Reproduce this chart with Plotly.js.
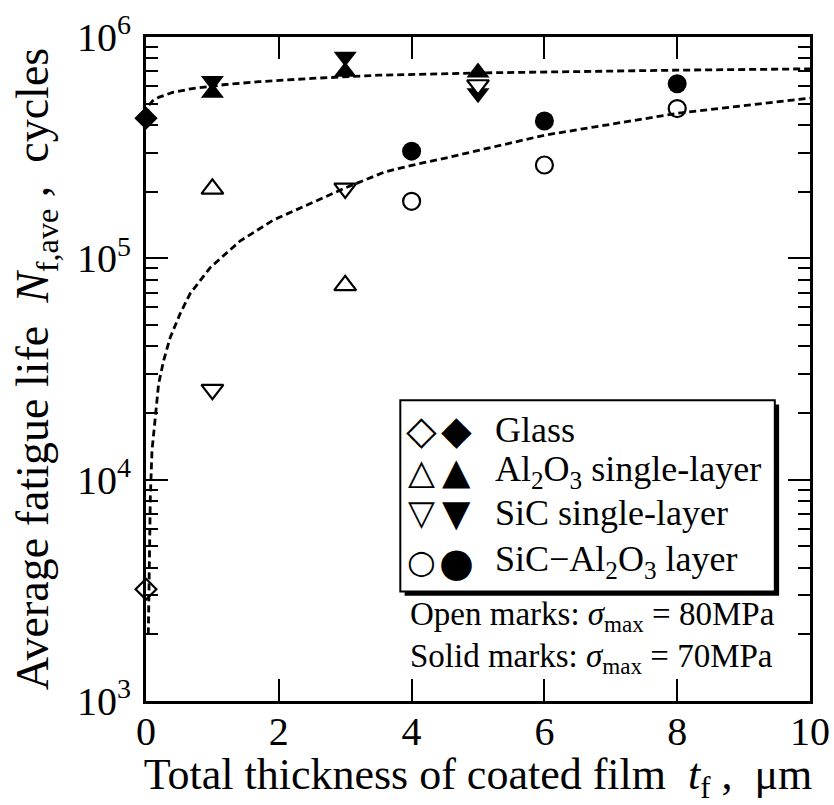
<!DOCTYPE html>
<html>
<head>
<meta charset="utf-8">
<script src="https://cdn.plot.ly/plotly-3.0.1.min.js"></script>
<style>html,body{margin:0;padding:0;background:#fff;}#chart{width:834px;height:805px;}</style>
</head>
<body>
<div id="chart"></div>
<script>
// ---- data ----
var glassX = [0];
var glassOpenY = [3.2e3];
var glassSolidY = [4.3e5];

var al2o3OpenX = [1, 3];
var al2o3OpenY = [2.06e5, 7.55e4];
var al2o3SolidX = [1, 3, 5];
var al2o3SolidY = [5.6e5, 6.96e5, 6.92e5];

var sicOpenX = [1, 3, 5];
var sicOpenY = [2.55e4, 2.07e5, 6.07e5];
var sicSolidX = [1, 3, 5];
var sicSolidY = [6.32e5, 8.15e5, 5.57e5];

var layerX = [4, 6, 8];
var layerOpenY = [1.81e5, 2.64e5, 4.75e5];
var layerSolidY = [3.05e5, 4.17e5, 6.15e5];

// dashed fitted curves
var fitSolidX = [0.01, 0.04, 0.1, 0.2, 0.4, 0.7, 1.2, 1.7, 2.5, 3.5, 5, 6, 8, 10];
var fitSolidY = [4.4e5, 4.9e5, 5.15e5, 5.35e5, 5.62e5, 5.85e5, 6.1e5, 6.28e5, 6.5e5, 6.72e5, 6.88e5, 6.95e5, 7.08e5, 7.18e5];
var fitOpenX = [0.035, 0.05, 0.065, 0.09, 0.14, 0.19, 0.265, 0.366, 0.516, 0.667, 0.97, 1.42, 1.92, 3, 3.6, 4, 4.58, 6, 8, 10];
var fitOpenY = [2.0e3, 4.3e3, 8.3e3, 1.35e4, 1.98e4, 2.71e4, 3.45e4, 4.4e4, 5.64e4, 6.95e4, 9.1e4, 1.2e5, 1.49e5, 2.08e5, 2.46e5, 2.63e5, 2.87e5, 3.6e5, 4.52e5, 5.3e5];

// axis ticks
var xTickVals = [0, 2, 4, 6, 8, 10];
var xTickText = ['0', '2', '4', '6', '8', '10'];
var yTickVals = [1e3, 1e4, 1e5, 1e6];
var yTickText = ['10<sup>3</sup>', '10<sup>4</sup>', '10<sup>5</sup>', '10<sup>6</sup>'];
var yMinorVals = [2e3,3e3,4e3,5e3,6e3,7e3,8e3,9e3,2e4,3e4,4e4,5e4,6e4,7e4,8e4,9e4,2e5,3e5,4e5,5e5,6e5,7e5,8e5,9e5];

// legend content
var legendOpenGlyphs = ['\u25C7', '\u25B3', '\u25BD', '\u25CB'];
var legendSolidGlyphs = ['\u25C6', '\u25B2', '\u25BC', '\u25CF'];
var legendLabels = ['Glass', 'Al<sub>2</sub>O<sub>3</sub> single-layer', 'SiC single-layer', 'SiC\u2212Al<sub>2</sub>O<sub>3</sub> layer'];
var noteLabels = ['Open marks: <i>\u03C3</i><sub>max</sub> = 80MPa', 'Solid marks: <i>\u03C3</i><sub>max</sub> = 70MPa'];

// ---- styling ----
var FONT = '"Liberation Serif", "Times New Roman", serif';
var dashLine = {color: '#000', width: 2.8, dash: '7px,4px'};
var openGlyphSizes = [40, 35, 35, 33];
var solidGlyphSizes = [40, 37, 37, 40];
function openM(sym, size) { return {symbol: sym, size: size, color: '#fff', line: {color: '#000', width: 2.2}}; }
function solidM(sym, size) { return {symbol: sym, size: size, color: '#000', line: {color: '#000', width: 0}}; }

var traces = [
  {x: fitSolidX, y: fitSolidY, mode: 'lines', line: dashLine, yaxis: 'y2', hoverinfo: 'skip'},
  {x: fitOpenX, y: fitOpenY, mode: 'lines', line: dashLine, yaxis: 'y2', hoverinfo: 'skip'},
  {x: glassX, y: glassSolidY, mode: 'markers', marker: solidM('diamond', 18)},
  {x: al2o3SolidX, y: al2o3SolidY, mode: 'markers', marker: solidM('triangle-up', 20)},
  {x: sicSolidX, y: sicSolidY, mode: 'markers', marker: solidM('triangle-down', 20)},
  {x: layerX, y: layerSolidY, mode: 'markers', marker: solidM('circle', 19)},
  {x: glassX, y: glassOpenY, mode: 'markers', marker: openM('diamond', 16)},
  {x: al2o3OpenX, y: al2o3OpenY, mode: 'markers', marker: openM('triangle-up', 19)},
  {x: sicOpenX, y: sicOpenY, mode: 'markers', marker: openM('triangle-down', 19)},
  {x: layerX, y: layerOpenY, mode: 'markers', marker: openM('circle', 17)}
];
traces.forEach(function (t) { t.cliponaxis = false; t.showlegend = false; t.type = 'scatter'; });

// legend box geometry (paper coords)
var bx0 = 0.383, bx1 = 0.947, by0 = 0.165, by1 = 0.453, sh = 0.0065;
var rowY = [0.408, 0.345, 0.283, 0.2095];
var annotations = [];
for (var i = 0; i < legendLabels.length; i++) {
  annotations.push({xref: 'paper', yref: 'paper', x: 0.4155, y: rowY[i], text: legendOpenGlyphs[i], showarrow: false,
    xanchor: 'center', yanchor: 'middle', font: {family: '"DejaVu Sans"', size: openGlyphSizes[i], color: '#000'}});
  annotations.push({xref: 'paper', yref: 'paper', x: 0.468, y: rowY[i], text: legendSolidGlyphs[i], showarrow: false,
    xanchor: 'center', yanchor: 'middle', font: {family: '"DejaVu Sans"', size: solidGlyphSizes[i], color: '#000'}});
  annotations.push({xref: 'paper', yref: 'paper', x: 0.5224, y: rowY[i], text: legendLabels[i], showarrow: false,
    xanchor: 'left', yanchor: 'middle', font: {family: FONT, size: 36, color: '#000'}});
}
var noteY = [0.1266, 0.0644];
for (var j = 0; j < noteLabels.length; j++) {
  annotations.push({xref: 'paper', yref: 'paper', x: 0.3948, y: noteY[j], text: noteLabels[j], showarrow: false,
    xanchor: 'left', yanchor: 'middle', font: {family: FONT, size: 33, color: '#000'}});
}

var layout = {
  width: 834, height: 805,
  margin: {l: 146, r: 24, t: 37, b: 104},
  paper_bgcolor: '#fff', plot_bgcolor: '#fff',
  font: {family: FONT, color: '#000'},
  showlegend: false,
  xaxis: {
    range: [0, 10], tickvals: xTickVals, ticktext: xTickText,
    ticks: 'inside', ticklen: 22, tickwidth: 2, tickcolor: '#000',
    showline: true, linewidth: 3, linecolor: '#000', mirror: 'ticks',
    showgrid: false, zeroline: false,
    tickfont: {family: FONT, size: 40, color: '#000'}, ticklabelstandoff: -7,
    title: {text: 'Total thickness of coated film\u00a0\u00a0<i>t</i><sub>f</sub>\u00a0,\u00a0\u00a0\u03BCm', font: {family: FONT, size: 44, color: '#000'}, standoff: 0}
  },
  yaxis: {
    type: 'log', range: [3, 6], tickvals: yTickVals, ticktext: yTickText,
    ticks: 'inside', ticklen: 22, tickwidth: 2, tickcolor: '#000',
    showline: true, linewidth: 3, linecolor: '#000', mirror: 'ticks',
    showgrid: false, zeroline: false,
    tickfont: {family: FONT, size: 40, color: '#000'}, ticklabelstandoff: 4,
    title: {text: 'Average fatigue life\u00a0\u00a0<i>N</i><sub>f,ave</sub>\u00a0,\u00a0\u00a0cycles', font: {family: FONT, size: 46, color: '#000'}, standoff: 14}
  },
  yaxis2: {
    type: 'log', range: [3, 6], overlaying: 'y', side: 'left', anchor: 'x',
    tickvals: yMinorVals, showticklabels: false,
    ticks: 'inside', ticklen: 12, tickwidth: 2, tickcolor: '#000',
    showline: true, linewidth: 3, linecolor: '#000', mirror: 'ticks',
    showgrid: false, zeroline: false
  },
  shapes: [
    {type: 'rect', xref: 'paper', yref: 'paper', x0: bx0 + sh, x1: bx1 + sh, y0: by0 - sh * 1.0, y1: by1 - sh,
      fillcolor: '#000', line: {width: 0}, layer: 'above'},
    {type: 'rect', xref: 'paper', yref: 'paper', x0: bx0, x1: bx1, y0: by0, y1: by1,
      fillcolor: '#fff', line: {color: '#000', width: 2}, layer: 'above'}
  ],
  annotations: annotations
};

Plotly.newPlot('chart', traces, layout, {staticPlot: true, displayModeBar: false});
</script>
</body>
</html>
